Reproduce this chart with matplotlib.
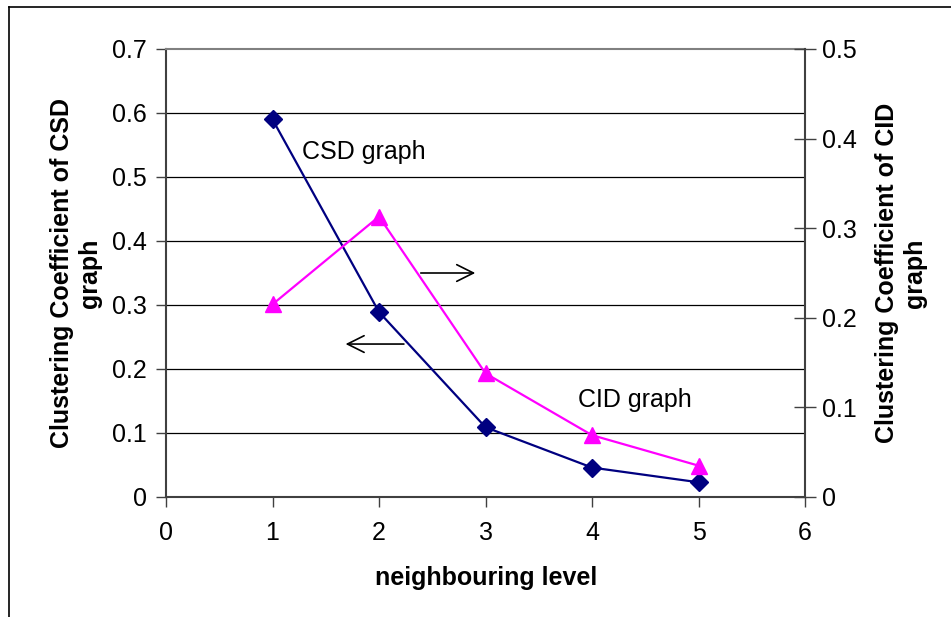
import numpy as np
import matplotlib.pyplot as plt
from matplotlib.lines import Line2D

plt.rcParams['font.family'] = ['Liberation Sans', 'DejaVu Sans']

# data
level     = [1, 2, 3, 4, 5]
csd_coef  = [0.59, 0.289, 0.109, 0.046, 0.023]
cid_coef  = [0.215, 0.313, 0.138, 0.069, 0.035]
x_ticks   = [0, 1, 2, 3, 4, 5, 6]
yl_ticks  = [0, 0.1, 0.2, 0.3, 0.4, 0.5, 0.6, 0.7]
yr_ticks  = [0, 0.1, 0.2, 0.3, 0.4, 0.5]

fig = plt.figure(figsize=(9.51, 6.17), dpi=100)
W, H = 951, 617

# chart area frame (only top and left visible)
fig.add_artist(Line2D([9/W, 9/W], [0, 1-7/H], color='black', lw=1.2, transform=fig.transFigure))
fig.add_artist(Line2D([9/W, 1], [1-7/H, 1-7/H], color='black', lw=1.2, transform=fig.transFigure))

ax = fig.add_axes([166/W, 1-497/H, (805-166)/W, (497-49)/H])
ax2 = ax.twinx()

ax.set_xlim(0, 6)
ax.set_ylim(0, 0.7)
ax2.set_ylim(0, 0.5)
ax.set_xticks(x_ticks)
ax.set_yticks(yl_ticks)
ax2.set_yticks(yr_ticks)
ax.set_xticklabels([str(v) for v in x_ticks])
ax.set_yticklabels(['0'] + ['%.1f' % v for v in yl_ticks[1:]])
ax2.set_yticklabels(['0'] + ['%.1f' % v for v in yr_ticks[1:]])

# gridlines
for v in yl_ticks[1:-1]:
    ax.axhline(v, color='black', lw=0.9, zorder=0)

ax.plot(level, csd_coef, color='#000080', lw=1.6, marker='D', ms=9, zorder=3)
ax2.plot(level, cid_coef, color='#FF00FF', lw=1.6, marker='^', ms=11, zorder=3)

for s in ['left', 'bottom']:
    ax.spines[s].set_color('#404040')
    ax.spines[s].set_linewidth(1.5)
ax.spines['top'].set_color('#808080')
ax.spines['top'].set_linewidth(1.5)
ax.spines['right'].set_visible(False)
for s in ['left', 'bottom']:
    ax2.spines[s].set_visible(False)
ax2.spines['top'].set_visible(False)
ax2.spines['right'].set_color('#404040')
ax2.spines['right'].set_linewidth(1.5)

ax.tick_params(axis='both', direction='out', length=7, width=1, color='#404040', labelsize=18)
ax.tick_params(axis='y', pad=7)
ax.tick_params(axis='x', pad=10)
ax2.tick_params(axis='y', direction='inout', length=16, width=1, color='#404040', labelsize=18, pad=4)

# annotations
ax.text(1.277, 0.539, 'CSD graph', fontsize=18, va='center', ha='left')
ax.text(3.87, 0.152, 'CID graph', fontsize=18, va='center', ha='left')
ax.annotate('', xy=(2.93, 0.35), xytext=(2.366, 0.35),
            arrowprops=dict(arrowstyle='->', color='black', lw=1.2, mutation_scale=30))
ax.annotate('', xy=(1.66, 0.239), xytext=(2.26, 0.239),
            arrowprops=dict(arrowstyle='->', color='black', lw=1.2, mutation_scale=30))

fig.text(76/W, 1-273/H, 'Clustering Coefficient of CSD\ngraph', rotation=90, ha='center', va='center',
         multialignment='center', fontsize=18, fontweight='bold')
fig.text(901/W, 1-273/H, 'Clustering Coefficient of CID\ngraph', rotation=90, ha='center', va='center',
         multialignment='center', fontsize=18, fontweight='bold')
fig.text(486/W, 1-578/H, 'neighbouring level', ha='center', va='center', fontsize=18, fontweight='bold')

fig.savefig('out.png', dpi=100)
